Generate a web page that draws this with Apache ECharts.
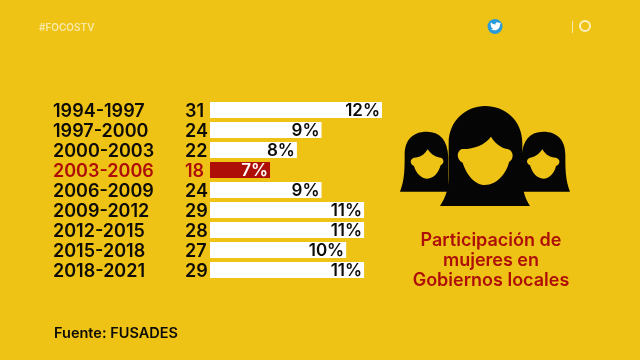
<!DOCTYPE html>
<html>
<head>
<meta charset="utf-8">
<style>
  html, body { margin: 0; padding: 0; background: #efc216; }
  #main { width: 640px; height: 360px; }
</style>
<script src="https://cdn.jsdelivr.net/npm/echarts@6/dist/echarts.min.js"></script>
</head>
<body>
<div id="main"></div>
<script>
const periods = ['1994-1997', '1997-2000', '2000-2003', '2003-2006', '2006-2009', '2009-2012', '2012-2015', '2015-2018', '2018-2021'];
const counts = [31, 24, 22, 18, 24, 29, 28, 27, 29];
const percentLabels = ['12%', '9%', '8%', '7%', '9%', '11%', '11%', '10%', '11%'];
// lengths as drawn in the picture, they are not quite the printed rounded numbers
const barValues = [12, 9.3, 8.2, 7, 9.3, 11.2, 11.2, 10.4, 11.2];
const highlight = '2003-2006';

const RED = '#ad0f08';
const BG = '#efc216';
const FONT = 'Inter, sans-serif';

const labelColor = val => (val === highlight || val === '18') ? RED : '#0d0b05';

// silhouettes in a 600x630 box, same as the crop of the icon
const iconPaths = {
  sideWoman: 'M30 305 C44 270 44 235 44 195 C44 150 68 125 110 125 C150 125 172 150 175 200 L175 305 Z',
  sideFace: 'M113 178 C125 195 140 203 153 203 C163 208 163 220 152 226 C145 250 130 266 112 266 C94 266 78 250 72 228 C60 222 58 208 72 203 C90 203 102 195 113 178 Z',
  rightWoman: 'M540 305 C526 270 526 235 526 195 C526 150 502 125 460 125 C420 125 398 150 395 200 L395 305 Z',
  rightFace: 'M457 178 C445 195 430 203 420 203 C408 208 408 220 420 226 C427 250 442 266 460 266 C478 266 493 250 498 228 C512 222 512 208 498 203 C480 203 468 195 457 178 Z',
  mainWoman: 'M150 348 C168 320 176 300 176 250 L176 160 C176 90 230 48 285 48 C345 48 397 90 397 160 L397 250 C397 300 402 320 420 348 Z',
  mainFace: 'M303 140 C315 160 335 175 355 178 C372 185 372 208 357 216 C350 250 320 285 285 285 C252 285 228 250 218 218 C200 210 198 185 215 177 C250 178 285 165 303 140 Z',
  bird: 'M-4 3 C0 5 5 3 5 -2 L6 -3 L5 -3 L5.5 -4 L4 -3.6 C3 -5 0 -4.5 0.5 -2 C-1.5 -2 -3 -3 -4 -4 C-5 -2.5 -4 -1 -3.5 -1 L-4.3 -1.2 C-4.3 0 -3.5 0.5 -3 0.8 L-3.8 0.8 C-3.5 1.6 -2.8 1.9 -2 2 C-2.5 2.6 -3.2 3 -4 3 Z'
};
Object.keys(iconPaths).forEach(name => {
  echarts.graphic.registerShape(name, echarts.graphic.extendPath(iconPaths[name]));
});

const myChart = echarts.init(document.getElementById('main'));

const option = {
  backgroundColor: BG,
  animation: false,
  title: [
    {
      text: '#FOCOSTV', left: 39, top: 23, padding: 0,
      textStyle: { color: '#f8e9a8', fontFamily: FONT, fontSize: 10, fontWeight: 600 }
    },
    {
      text: 'Participación de\nmujeres en\nGobiernos locales',
      left: 491, top: 231, padding: 0, textAlign: 'center',
      textStyle: { color: RED, fontFamily: FONT, fontSize: 18, fontWeight: 600, lineHeight: 20 }
    },
    {
      text: 'Fuente: FUSADES', left: 54, top: 326, padding: 0,
      textStyle: { color: '#0d0b05', fontFamily: FONT, fontSize: 14.5, fontWeight: 600 }
    }
  ],
  grid: { left: 210, top: 100, width: 172, height: 180 },
  xAxis: { type: 'value', min: 4.32, max: 12, show: false },
  yAxis: [
    {
      type: 'category', inverse: true, data: periods,
      axisLine: { show: false }, axisTick: { show: false },
      axisLabel: {
        interval: 0, margin: 157, align: 'left',
        fontFamily: FONT, fontSize: 18, fontWeight: 600,
        verticalAlign: 'top', lineHeight: 3,
        color: labelColor
      }
    },
    {
      type: 'category', inverse: true, position: 'left', data: counts.map(String),
      axisLine: { show: false }, axisTick: { show: false },
      axisLabel: {
        interval: 0, margin: 25, align: 'left',
        fontFamily: FONT, fontSize: 18, fontWeight: 600,
        verticalAlign: 'top', lineHeight: 3,
        color: labelColor
      }
    }
  ],
  series: [
    {
      type: 'bar',
      barWidth: 16,
      data: barValues.map((v, i) => ({
        value: v,
        itemStyle: { color: periods[i] === highlight ? RED : '#ffffff' },
        label: { color: periods[i] === highlight ? '#ffffff' : '#0d0b05' }
      })),
      label: {
        show: true, position: 'insideRight', distance: 2, offset: [0, 1],
        fontFamily: FONT, fontSize: 17, fontWeight: 600,
        formatter: p => percentLabels[p.dataIndex]
      }
    }
  ],
  graphic: [
    {
      type: 'group', x: 390, y: 90, scaleX: 1 / 3, scaleY: 1 / 3,
      children: [
        { type: 'sideWoman', style: { fill: '#050505' } },
        { type: 'sideFace', style: { fill: BG } },
        { type: 'rightWoman', style: { fill: '#050505' } },
        { type: 'rightFace', style: { fill: BG } },
        { type: 'mainWoman', style: { fill: '#050505' } },
        { type: 'mainFace', style: { fill: BG } }
      ]
    },
    // top right logos
    { type: 'circle', shape: { cx: 495, cy: 26.5, r: 7.5 }, style: { fill: '#2b9bd8' } },
    { type: 'bird', x: 495, y: 26.5, style: { fill: '#ffffff' } },
    { type: 'rect', shape: { x: 572, y: 21, width: 1, height: 12 }, style: { fill: '#f8e9a8' } },
    { type: 'circle', shape: { cx: 585, cy: 26, r: 5 }, style: { fill: 'none', stroke: '#fbf0c0', lineWidth: 2 } }
  ]
};

myChart.setOption(option);
</script>
</body>
</html>
